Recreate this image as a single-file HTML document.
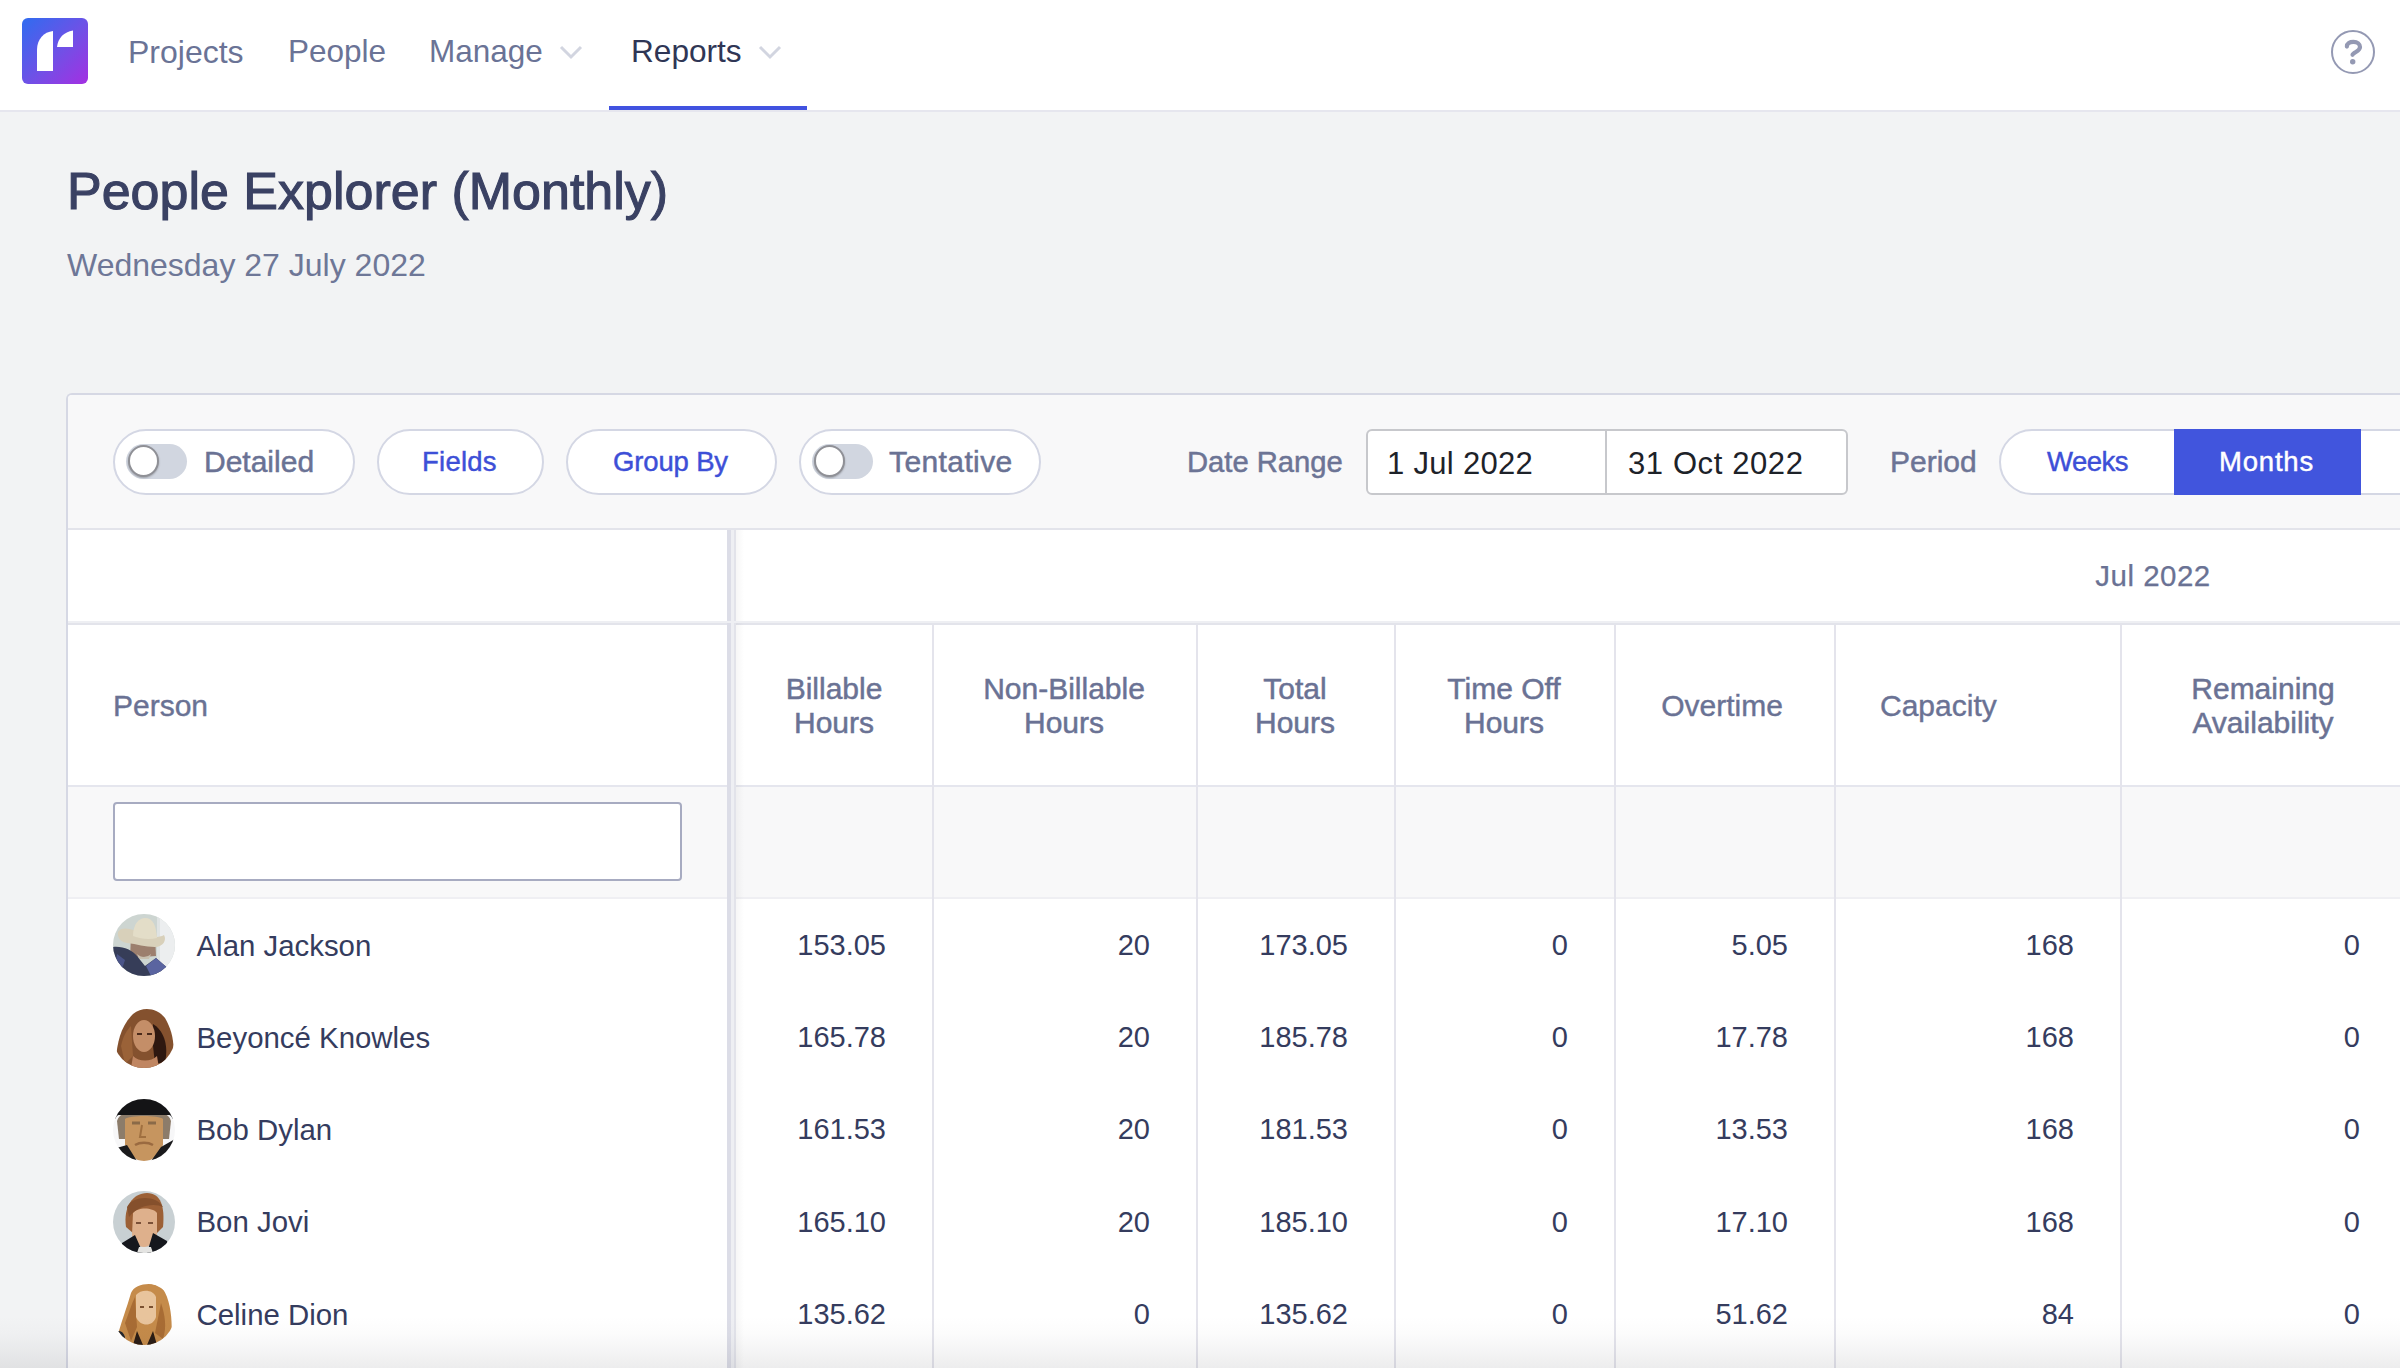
<!DOCTYPE html>
<html><head><meta charset="utf-8"><style>
html,body{margin:0;padding:0;}
body{width:2400px;height:1368px;overflow:hidden;position:relative;background:#f2f3f4;font-family:"Liberation Sans", sans-serif;}
</style></head><body>
<div style="position:absolute;left:0px;top:0px;width:2400px;height:110px;background:#ffffff;"></div>
<div style="position:absolute;left:0px;top:110px;width:2400px;height:2px;background:#e6e6ee;"></div>
<svg style="position:absolute;left:22px;top:18px" width="66" height="66" viewBox="0 0 66 66">
<defs><linearGradient id="lg" x1="0" y1="0" x2="1" y2="1"><stop offset="0" stop-color="#2f6cf0"/><stop offset="0.55" stop-color="#7150e6"/><stop offset="1" stop-color="#a42fe2"/></linearGradient></defs>
<rect x="0" y="0" width="66" height="66" rx="6" fill="url(#lg)"/>
<path d="M15 53 L15 32 C15 21 22 14 31 13 L31 53 Z" fill="#fff"/>
<path d="M35 29 C36 20 42 14 51 12.6 L51 29 Z" fill="#fff"/>
</svg>
<div style="position:absolute;top:35.91px;font-size:32px;line-height:32px;color:#6a7396;white-space:nowrap;left:128px;">Projects</div>
<div style="position:absolute;top:36.34px;font-size:31.5px;line-height:31.5px;color:#6a7396;white-space:nowrap;left:288px;">People</div>
<div style="position:absolute;top:36.34px;font-size:31.5px;line-height:31.5px;color:#6a7396;white-space:nowrap;left:429px;">Manage</div>
<div style="position:absolute;top:36.25px;font-size:31.6px;line-height:31.6px;color:#2f3655;white-space:nowrap;left:631px;">Reports</div>
<svg style="position:absolute;left:559px;top:44px" width="24" height="16" viewBox="0 0 24 16"><path d="M2 3 L12 13 L22 3" fill="none" stroke="#d2d5e0" stroke-width="3"/></svg>
<svg style="position:absolute;left:758px;top:44px" width="24" height="16" viewBox="0 0 24 16"><path d="M2 3 L12 13 L22 3" fill="none" stroke="#d2d5e0" stroke-width="3"/></svg>
<div style="position:absolute;left:609px;top:106px;width:198px;height:4px;background:#4152e0;"></div>
<svg style="position:absolute;left:2329px;top:28px" width="48" height="48" viewBox="0 0 48 48">
<circle cx="24" cy="24" r="21" fill="none" stroke="#9499b3" stroke-width="2"/>
<path d="M17.9 18.6 C17.9 15.2 20.8 13.8 24.4 13.8 C28.4 13.8 31 16 31 19 C31 22.6 27 23.6 24.8 25.4 C23.8 26.2 23.5 26.5 23.5 26.8" fill="none" stroke="#9499b3" stroke-width="4.2" stroke-linecap="round"/>
<circle cx="23.7" cy="33.7" r="2.7" fill="#9499b3"/>
</svg>
<div style="position:absolute;top:165.48px;font-size:52px;line-height:52px;color:#3a4163;white-space:nowrap;-webkit-text-stroke:1.1px #3a4163;left:67px;">People Explorer (Monthly)</div>
<div style="position:absolute;top:248.91px;font-size:32px;line-height:32px;color:#6e7797;white-space:nowrap;left:67px;">Wednesday 27 July 2022</div>
<div style="position:absolute;left:66px;top:393px;width:2334px;height:975px;background:#ffffff;border-top:2px solid #d6d8e4;border-left:2px solid #d6d8e4;border-top-left-radius:6px;box-sizing:border-box;"></div>
<div style="position:absolute;left:68px;top:395px;width:2332px;height:133px;background:#f8f8f9;border-top-left-radius:4px;"></div>
<div style="position:absolute;left:68px;top:528px;width:2332px;height:2px;background:#e3e4eb;"></div>
<div style="position:absolute;left:113px;top:429px;width:242px;height:66px;background:#fff;border:2px solid #d4d7e4;border-radius:33px;box-sizing:border-box;"></div>
<div style="position:absolute;left:126px;top:444px;width:61px;height:35px;background:#d1d6e0;border-radius:18px;"></div>
<div style="position:absolute;left:128px;top:445px;width:31px;height:32px;background:#fff;border:2px solid #8f9096;border-radius:50%;box-sizing:border-box;box-shadow:0 1px 2px rgba(0,0,0,0.25);"></div>
<div style="position:absolute;top:447.11px;font-size:30px;line-height:30px;color:#6a7294;white-space:nowrap;-webkit-text-stroke:0.5px #6a7294;left:204px;">Detailed</div>
<div style="position:absolute;left:377px;top:429px;width:167px;height:66px;background:#fff;border:2px solid #d4d7e4;border-radius:33px;box-sizing:border-box;"></div>
<div style="position:absolute;top:447.72px;font-size:27.5px;line-height:27.5px;color:#3d4fd7;white-space:nowrap;-webkit-text-stroke:0.45px #3d4fd7;letter-spacing:0.25px;left:422px;">Fields</div>
<div style="position:absolute;left:566px;top:429px;width:211px;height:66px;background:#fff;border:2px solid #d4d7e4;border-radius:33px;box-sizing:border-box;"></div>
<div style="position:absolute;top:447.72px;font-size:27.5px;line-height:27.5px;color:#3d4fd7;white-space:nowrap;-webkit-text-stroke:0.45px #3d4fd7;letter-spacing:-0.15px;left:613px;">Group By</div>
<div style="position:absolute;left:799px;top:429px;width:242px;height:66px;background:#fff;border:2px solid #d4d7e4;border-radius:33px;box-sizing:border-box;"></div>
<div style="position:absolute;left:812px;top:444px;width:61px;height:35px;background:#d1d6e0;border-radius:18px;"></div>
<div style="position:absolute;left:814px;top:445px;width:31px;height:32px;background:#fff;border:2px solid #8f9096;border-radius:50%;box-sizing:border-box;box-shadow:0 1px 2px rgba(0,0,0,0.25);"></div>
<div style="position:absolute;top:447.11px;font-size:30px;line-height:30px;color:#6a7294;white-space:nowrap;-webkit-text-stroke:0.5px #6a7294;letter-spacing:0.4px;left:889px;">Tentative</div>
<div style="position:absolute;top:447.78px;font-size:29.2px;line-height:29.2px;color:#6c7495;white-space:nowrap;-webkit-text-stroke:0.5px #6c7495;left:1187px;">Date Range</div>
<div style="position:absolute;left:1366px;top:429px;width:482px;height:66px;background:#fff;border:2px solid #c7c8cc;border-radius:6px;box-sizing:border-box;"></div>
<div style="position:absolute;left:1605px;top:431px;width:2px;height:62px;background:#c7c8cc;"></div>
<div style="position:absolute;top:448.26px;font-size:31px;line-height:31px;color:#1d2229;white-space:nowrap;letter-spacing:0.3px;left:1387px;">1 Jul 2022</div>
<div style="position:absolute;top:448.26px;font-size:31px;line-height:31px;color:#1d2229;white-space:nowrap;letter-spacing:0.6px;left:1628px;">31 Oct 2022</div>
<div style="position:absolute;top:447.11px;font-size:30px;line-height:30px;color:#6c7495;white-space:nowrap;-webkit-text-stroke:0.5px #6c7495;left:1890px;">Period</div>
<div style="position:absolute;left:1999px;top:429px;width:461px;height:66px;background:#fff;border:2px solid #d4d7e4;border-radius:33px 0 0 33px;box-sizing:border-box;"></div>
<div style="position:absolute;left:2174px;top:429px;width:187px;height:66px;background:#4155dd;"></div>
<div style="position:absolute;top:447.72px;font-size:27.5px;line-height:27.5px;color:#3d4fd7;white-space:nowrap;-webkit-text-stroke:0.45px #3d4fd7;letter-spacing:-0.5px;left:2047px;">Weeks</div>
<div style="position:absolute;top:447.72px;font-size:27.5px;line-height:27.5px;color:#ffffff;white-space:nowrap;-webkit-text-stroke:0.45px #ffffff;letter-spacing:0.8px;left:2219px;">Months</div>
<div style="position:absolute;left:68px;top:621px;width:2332px;height:2px;background:#eeeff3;"></div>
<div style="position:absolute;left:68px;top:623px;width:2332px;height:2px;background:#e3e4eb;"></div>
<div style="position:absolute;top:561.03px;font-size:29.5px;line-height:29.5px;color:#6a7294;white-space:nowrap;-webkit-text-stroke:0.25px #6a7294;letter-spacing:0.5px;left:1653px;width:1000px;text-align:center;">Jul 2022</div>
<div style="position:absolute;left:68px;top:785px;width:2332px;height:2px;background:#e5e6ee;"></div>
<div style="position:absolute;left:68px;top:787px;width:2332px;height:110px;background:#f8f8f9;"></div>
<div style="position:absolute;left:68px;top:897px;width:2332px;height:2px;background:#efeff3;"></div>
<div style="position:absolute;left:113px;top:802px;width:569px;height:79px;background:#fff;border:2px solid #a7abc1;border-radius:4px;box-sizing:border-box;"></div>
<div style="position:absolute;left:727px;top:530px;width:4px;height:838px;background:#dcdde7;"></div>
<div style="position:absolute;left:731px;top:530px;width:3px;height:838px;background:#eeeff3;"></div>
<div style="position:absolute;left:734px;top:530px;width:2px;height:838px;background:#e2e3ea;"></div>
<div style="position:absolute;left:736px;top:530px;width:8px;height:838px;background:linear-gradient(to right, rgba(0,0,0,0.035), rgba(0,0,0,0));"></div>
<div style="position:absolute;left:68px;top:621px;width:659px;height:2px;background:#eeeff3;"></div>
<div style="position:absolute;left:736px;top:621px;width:1664px;height:2px;background:#eeeff3;"></div>
<div style="position:absolute;left:727px;top:621px;width:9px;height:2px;background:#eeeff3;"></div>
<div style="position:absolute;left:932px;top:625px;width:2px;height:743px;background:#e4e4ec;"></div>
<div style="position:absolute;left:1196px;top:625px;width:2px;height:743px;background:#e4e4ec;"></div>
<div style="position:absolute;left:1394px;top:625px;width:2px;height:743px;background:#e4e4ec;"></div>
<div style="position:absolute;left:1614px;top:625px;width:2px;height:743px;background:#e4e4ec;"></div>
<div style="position:absolute;left:1834px;top:625px;width:2px;height:743px;background:#e4e4ec;"></div>
<div style="position:absolute;left:2120px;top:625px;width:2px;height:743px;background:#e4e4ec;"></div>
<div style="position:absolute;top:690.81px;font-size:30px;line-height:30px;color:#6a7294;white-space:nowrap;-webkit-text-stroke:0.4px #6a7294;left:113px;">Person</div>
<div style="position:absolute;top:673.61px;font-size:30px;line-height:30px;color:#6a7294;white-space:nowrap;-webkit-text-stroke:0.5px #6a7294;left:334px;width:1000px;text-align:center;">Billable</div>
<div style="position:absolute;top:707.61px;font-size:30px;line-height:30px;color:#6a7294;white-space:nowrap;-webkit-text-stroke:0.5px #6a7294;left:334px;width:1000px;text-align:center;">Hours</div>
<div style="position:absolute;top:673.61px;font-size:30px;line-height:30px;color:#6a7294;white-space:nowrap;-webkit-text-stroke:0.5px #6a7294;left:564px;width:1000px;text-align:center;">Non-Billable</div>
<div style="position:absolute;top:707.61px;font-size:30px;line-height:30px;color:#6a7294;white-space:nowrap;-webkit-text-stroke:0.5px #6a7294;left:564px;width:1000px;text-align:center;">Hours</div>
<div style="position:absolute;top:673.61px;font-size:30px;line-height:30px;color:#6a7294;white-space:nowrap;-webkit-text-stroke:0.5px #6a7294;left:795px;width:1000px;text-align:center;">Total</div>
<div style="position:absolute;top:707.61px;font-size:30px;line-height:30px;color:#6a7294;white-space:nowrap;-webkit-text-stroke:0.5px #6a7294;left:795px;width:1000px;text-align:center;">Hours</div>
<div style="position:absolute;top:673.61px;font-size:30px;line-height:30px;color:#6a7294;white-space:nowrap;-webkit-text-stroke:0.5px #6a7294;left:1004px;width:1000px;text-align:center;">Time Off</div>
<div style="position:absolute;top:707.61px;font-size:30px;line-height:30px;color:#6a7294;white-space:nowrap;-webkit-text-stroke:0.5px #6a7294;left:1004px;width:1000px;text-align:center;">Hours</div>
<div style="position:absolute;top:690.81px;font-size:30px;line-height:30px;color:#6a7294;white-space:nowrap;-webkit-text-stroke:0.4px #6a7294;left:1222px;width:1000px;text-align:center;">Overtime</div>
<div style="position:absolute;top:690.81px;font-size:30px;line-height:30px;color:#6a7294;white-space:nowrap;-webkit-text-stroke:0.4px #6a7294;left:1880px;">Capacity</div>
<div style="position:absolute;top:673.61px;font-size:30px;line-height:30px;color:#6a7294;white-space:nowrap;-webkit-text-stroke:0.5px #6a7294;left:1763px;width:1000px;text-align:center;">Remaining</div>
<div style="position:absolute;top:707.61px;font-size:30px;line-height:30px;color:#6a7294;white-space:nowrap;-webkit-text-stroke:0.5px #6a7294;left:1763px;width:1000px;text-align:center;">Availability</div>
<svg style="position:absolute;left:113px;top:914.00px" width="62" height="62" viewBox="0 0 62 62"><defs><clipPath id="c0"><circle cx="31" cy="31" r="31"/></clipPath></defs><g clip-path="url(#c0)"><rect width="62" height="62" fill="#cdd5d1"/><rect x="46" y="0" width="16" height="62" fill="#eceeef"/><rect x="44" y="0" width="3" height="62" fill="#dfe3e3"/>
 <path d="M17 44 L18 22 L42 22 L43 42 Z" fill="#9c7f6e"/>
 <path d="M24 40 C28 44 34 44 38 40 L36 45 L26 45 Z" fill="#c8c0b0"/>
 <path d="M5 18 C8 12 20 14 28 20 C36 24 46 24 51 21 C54 26 50 33 42 33 C32 33 24 30 14 29 C8 28 4 24 5 18 Z" fill="#d8d0ba"/>
 <path d="M20 22 C20 10 26 4 32 4 C40 4 43 11 44 24 C36 26 28 25 20 22 Z" fill="#e3ddc8"/>
 <path d="M0 33 C10 32 19 36 24 42 L32 52 L43 44 L57 56 L57 62 L0 62 Z" fill="#363d58"/>
 <path d="M33 52 L43 44 L58 57 L50 62 L38 62 Z" fill="#5a64a0"/>
 <path d="M4 40 L12 46 L8 58 L2 52 Z" fill="#4a5488"/></g></svg>
<div style="position:absolute;top:930.61px;font-size:29.4px;line-height:29.4px;color:#353c5e;white-space:nowrap;left:196.5px;">Alan Jackson</div>
<div style="position:absolute;top:930.95px;font-size:29px;line-height:29px;color:#353c5e;white-space:nowrap;right:1514px;text-align:right;">153.05</div>
<div style="position:absolute;top:930.95px;font-size:29px;line-height:29px;color:#353c5e;white-space:nowrap;right:1250px;text-align:right;">20</div>
<div style="position:absolute;top:930.95px;font-size:29px;line-height:29px;color:#353c5e;white-space:nowrap;right:1052px;text-align:right;">173.05</div>
<div style="position:absolute;top:930.95px;font-size:29px;line-height:29px;color:#353c5e;white-space:nowrap;right:832px;text-align:right;">0</div>
<div style="position:absolute;top:930.95px;font-size:29px;line-height:29px;color:#353c5e;white-space:nowrap;right:612px;text-align:right;">5.05</div>
<div style="position:absolute;top:930.95px;font-size:29px;line-height:29px;color:#353c5e;white-space:nowrap;right:326px;text-align:right;">168</div>
<div style="position:absolute;top:930.95px;font-size:29px;line-height:29px;color:#353c5e;white-space:nowrap;right:40px;text-align:right;">0</div>
<svg style="position:absolute;left:113px;top:1006.25px" width="62" height="62" viewBox="0 0 62 62"><defs><clipPath id="c1"><circle cx="31" cy="31" r="31"/></clipPath></defs><g clip-path="url(#c1)"><rect width="62" height="62" fill="#ffffff"/>
 <path d="M3 54 C4 36 8 20 20 8 C30 0 44 2 52 12 C58 22 62 36 60 50 L50 62 L10 62 Z" fill="#84512e"/>
 <path d="M40 18 C50 24 56 38 52 56 L42 58 L40 40 Z" fill="#2e1810"/>
 <path d="M8 40 C10 30 14 24 18 20 L20 50 L12 58 Z" fill="#9a6238"/>
 <ellipse cx="31" cy="30" rx="11" ry="16" fill="#c48e68"/>
 <path d="M24 28 L29 28 M34 28 L39 28" stroke="#4a2a1a" stroke-width="2"/>
 <path d="M20 50 C26 56 38 56 44 50 L46 62 L18 62 Z" fill="#c08662"/></g></svg>
<div style="position:absolute;top:1022.86px;font-size:29.4px;line-height:29.4px;color:#353c5e;white-space:nowrap;left:196.5px;">Beyonc&eacute; Knowles</div>
<div style="position:absolute;top:1023.20px;font-size:29px;line-height:29px;color:#353c5e;white-space:nowrap;right:1514px;text-align:right;">165.78</div>
<div style="position:absolute;top:1023.20px;font-size:29px;line-height:29px;color:#353c5e;white-space:nowrap;right:1250px;text-align:right;">20</div>
<div style="position:absolute;top:1023.20px;font-size:29px;line-height:29px;color:#353c5e;white-space:nowrap;right:1052px;text-align:right;">185.78</div>
<div style="position:absolute;top:1023.20px;font-size:29px;line-height:29px;color:#353c5e;white-space:nowrap;right:832px;text-align:right;">0</div>
<div style="position:absolute;top:1023.20px;font-size:29px;line-height:29px;color:#353c5e;white-space:nowrap;right:612px;text-align:right;">17.78</div>
<div style="position:absolute;top:1023.20px;font-size:29px;line-height:29px;color:#353c5e;white-space:nowrap;right:326px;text-align:right;">168</div>
<div style="position:absolute;top:1023.20px;font-size:29px;line-height:29px;color:#353c5e;white-space:nowrap;right:40px;text-align:right;">0</div>
<svg style="position:absolute;left:113px;top:1098.50px" width="62" height="62" viewBox="0 0 62 62"><defs><clipPath id="c2"><circle cx="31" cy="31" r="31"/></clipPath></defs><g clip-path="url(#c2)"><rect width="62" height="62" fill="#f7f7f8"/>
 <path d="M4 22 C6 14 16 12 31 12 C46 12 56 14 58 22 L56 40 L6 40 Z" fill="#8c7c6a"/>
 <path d="M2 20 C6 12 18 11 31 11 C44 11 56 12 60 20 L60 16 L2 16 Z" fill="#3a3a3c"/>
 <rect x="0" y="0" width="62" height="16" fill="#141416"/>
 <path d="M12 20 C16 16 46 16 50 20 L50 46 C46 56 40 62 31 62 C22 62 16 56 12 46 Z" fill="#c6955f"/>
 <path d="M19 24 L27 24 M35 24 L43 24" stroke="#8a6a48" stroke-width="3"/>
 <path d="M29 26 L27 38 L33 38" stroke="#a07040" stroke-width="2" fill="none"/>
 <path d="M22 46 C27 43 35 43 40 46" stroke="#9a6a40" stroke-width="2.5" fill="none"/>
 <path d="M0 50 L14 46 L24 62 L0 62 Z M62 40 L48 48 L38 62 L62 62 Z" fill="#1a1a1c"/></g></svg>
<div style="position:absolute;top:1115.11px;font-size:29.4px;line-height:29.4px;color:#353c5e;white-space:nowrap;left:196.5px;">Bob Dylan</div>
<div style="position:absolute;top:1115.45px;font-size:29px;line-height:29px;color:#353c5e;white-space:nowrap;right:1514px;text-align:right;">161.53</div>
<div style="position:absolute;top:1115.45px;font-size:29px;line-height:29px;color:#353c5e;white-space:nowrap;right:1250px;text-align:right;">20</div>
<div style="position:absolute;top:1115.45px;font-size:29px;line-height:29px;color:#353c5e;white-space:nowrap;right:1052px;text-align:right;">181.53</div>
<div style="position:absolute;top:1115.45px;font-size:29px;line-height:29px;color:#353c5e;white-space:nowrap;right:832px;text-align:right;">0</div>
<div style="position:absolute;top:1115.45px;font-size:29px;line-height:29px;color:#353c5e;white-space:nowrap;right:612px;text-align:right;">13.53</div>
<div style="position:absolute;top:1115.45px;font-size:29px;line-height:29px;color:#353c5e;white-space:nowrap;right:326px;text-align:right;">168</div>
<div style="position:absolute;top:1115.45px;font-size:29px;line-height:29px;color:#353c5e;white-space:nowrap;right:40px;text-align:right;">0</div>
<svg style="position:absolute;left:113px;top:1190.75px" width="62" height="62" viewBox="0 0 62 62"><defs><clipPath id="c3"><circle cx="31" cy="31" r="31"/></clipPath></defs><g clip-path="url(#c3)"><rect width="62" height="62" fill="#c8d0d3"/>
 <path d="M13 36 C10 16 20 2 34 2 C48 2 52 16 50 36 L44 42 L20 42 Z" fill="#9c6036"/>
 <path d="M20 22 C24 16 40 16 44 22 L44 44 C41 52 36 56 31 56 C25 56 21 52 19 44 Z" fill="#deb08c"/>
 <path d="M14 16 C20 4 44 4 50 16 C42 12 26 13 16 26 Z" fill="#85502c"/>
 <path d="M23 32 L28 32 M35 32 L40 32" stroke="#7a5038" stroke-width="2"/>
 <path d="M8 62 L9 52 L22 44 L30 62 Z M56 62 L54 50 L40 42 L34 62 Z" fill="#15171d"/>
 <path d="M26 56 L38 56 L40 62 L24 62 Z" fill="#e4e4e2"/></g></svg>
<div style="position:absolute;top:1207.36px;font-size:29.4px;line-height:29.4px;color:#353c5e;white-space:nowrap;left:196.5px;">Bon Jovi</div>
<div style="position:absolute;top:1207.70px;font-size:29px;line-height:29px;color:#353c5e;white-space:nowrap;right:1514px;text-align:right;">165.10</div>
<div style="position:absolute;top:1207.70px;font-size:29px;line-height:29px;color:#353c5e;white-space:nowrap;right:1250px;text-align:right;">20</div>
<div style="position:absolute;top:1207.70px;font-size:29px;line-height:29px;color:#353c5e;white-space:nowrap;right:1052px;text-align:right;">185.10</div>
<div style="position:absolute;top:1207.70px;font-size:29px;line-height:29px;color:#353c5e;white-space:nowrap;right:832px;text-align:right;">0</div>
<div style="position:absolute;top:1207.70px;font-size:29px;line-height:29px;color:#353c5e;white-space:nowrap;right:612px;text-align:right;">17.10</div>
<div style="position:absolute;top:1207.70px;font-size:29px;line-height:29px;color:#353c5e;white-space:nowrap;right:326px;text-align:right;">168</div>
<div style="position:absolute;top:1207.70px;font-size:29px;line-height:29px;color:#353c5e;white-space:nowrap;right:40px;text-align:right;">0</div>
<svg style="position:absolute;left:113px;top:1283.00px" width="62" height="62" viewBox="0 0 62 62"><defs><clipPath id="c4"><circle cx="31" cy="31" r="31"/></clipPath></defs><g clip-path="url(#c4)"><rect width="62" height="62" fill="#ffffff"/>
 <path d="M3 58 C8 40 14 24 18 10 C22 0 42 -2 50 6 C58 18 60 40 58 58 L48 62 L10 62 Z" fill="#c58b4a"/>
 <path d="M12 40 C16 30 18 22 22 14 L24 44 L18 58 Z M48 20 C52 32 54 44 50 56 L42 50 Z" fill="#a86c34"/>
 <path d="M23 12 C28 6 40 6 43 14 L43 34 C40 44 27 44 23 34 Z" fill="#e8c49c"/>
 <path d="M27 24 L31 24 M36 24 L40 24" stroke="#7a5030" stroke-width="2"/>
 <path d="M2 50 C6 46 10 48 12 54 L10 62 L2 62 Z" fill="#22262e"/>
 <path d="M24 48 L30 62 L34 62 L40 48 L44 62 L20 62 Z" fill="#2a1c14"/></g></svg>
<div style="position:absolute;top:1299.61px;font-size:29.4px;line-height:29.4px;color:#353c5e;white-space:nowrap;left:196.5px;">Celine Dion</div>
<div style="position:absolute;top:1299.95px;font-size:29px;line-height:29px;color:#353c5e;white-space:nowrap;right:1514px;text-align:right;">135.62</div>
<div style="position:absolute;top:1299.95px;font-size:29px;line-height:29px;color:#353c5e;white-space:nowrap;right:1250px;text-align:right;">0</div>
<div style="position:absolute;top:1299.95px;font-size:29px;line-height:29px;color:#353c5e;white-space:nowrap;right:1052px;text-align:right;">135.62</div>
<div style="position:absolute;top:1299.95px;font-size:29px;line-height:29px;color:#353c5e;white-space:nowrap;right:832px;text-align:right;">0</div>
<div style="position:absolute;top:1299.95px;font-size:29px;line-height:29px;color:#353c5e;white-space:nowrap;right:612px;text-align:right;">51.62</div>
<div style="position:absolute;top:1299.95px;font-size:29px;line-height:29px;color:#353c5e;white-space:nowrap;right:326px;text-align:right;">84</div>
<div style="position:absolute;top:1299.95px;font-size:29px;line-height:29px;color:#353c5e;white-space:nowrap;right:40px;text-align:right;">0</div>
<div style="position:absolute;left:0px;top:1316px;width:2400px;height:52px;background:linear-gradient(to bottom, rgba(40,40,50,0) 0%, rgba(40,40,50,0.015) 35%, rgba(40,40,50,0.05) 70%, rgba(40,40,50,0.085) 100%);"></div>
</body></html>
